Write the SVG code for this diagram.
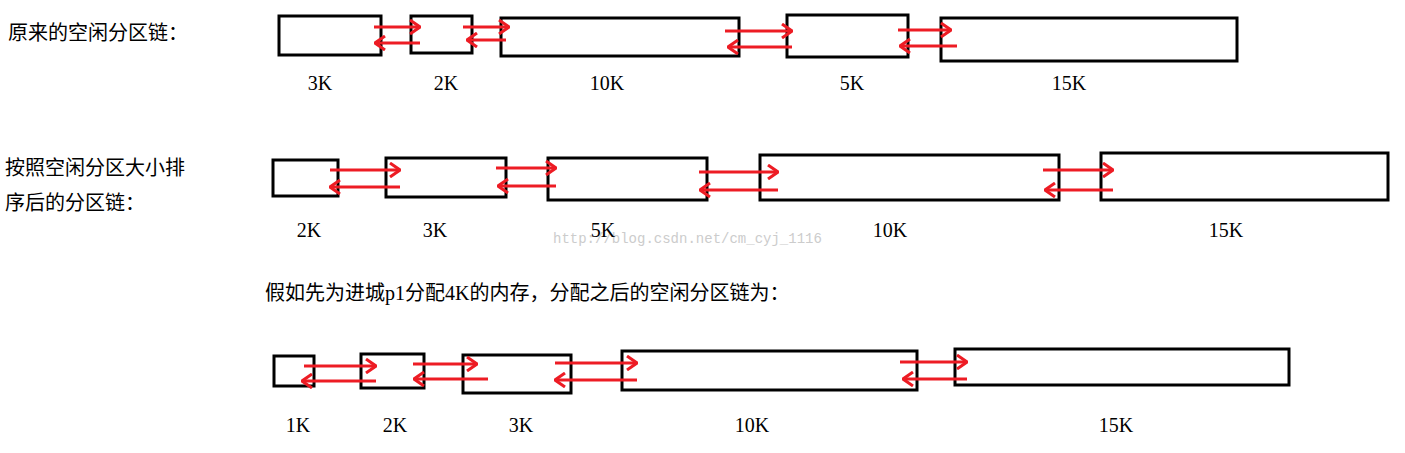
<svg xmlns="http://www.w3.org/2000/svg" width="1405" height="453" viewBox="0 0 1405 453">
<defs>
<style>
.b{fill:#fff;stroke:#000;stroke-width:3}
.a{stroke:#ed1c24;stroke-width:3;fill:none}
.t{font-family:"Liberation Serif","Noto Sans CJK SC",serif;font-size:20px;fill:#000}
.l{font-family:"Liberation Serif",serif;font-size:20px;fill:#000;text-anchor:middle}
.w{font-family:"Liberation Mono",monospace;font-size:14px;fill:#ccc}
</style>
<marker id="h" viewBox="0 0 12 16" refX="11" refY="8" markerWidth="12" markerHeight="16" markerUnits="userSpaceOnUse" orient="auto"><path d="M1,1 L11,8 L1,15" fill="none" stroke="#ed1c24" stroke-width="3"/></marker>
</defs>
<rect width="1405" height="453" fill="#fff"/>
<text class="t" x="8" y="40">原来的空闲分区链：</text>
<text class="t" x="5" y="175">按照空闲分区大小排</text>
<text class="t" x="5" y="210">序后的分区链：</text>
<text class="t" x="265" y="300">假如先为进城p1分配4K的内存，分配之后的空闲分区链为：</text>
<text class="w" x="553" y="243">http://blog.csdn.net/cm_cyj_1116</text>
<g id="r1">
<g id="n1a"><rect class="b" x="279" y="16" width="102" height="39"/><text class="l" x="320" y="90">3K</text></g>
<g id="n1b"><rect class="b" x="411" y="16" width="61" height="37"/><text class="l" x="446" y="90">2K</text></g>
<g id="n1c"><rect class="b" x="501" y="18" width="238" height="38"/><text class="l" x="607" y="90">10K</text></g>
<g id="n1d"><rect class="b" x="787" y="15" width="121" height="42"/><text class="l" x="852" y="90">5K</text></g>
<g id="n1e"><rect class="b" x="941" y="18" width="296" height="43"/><text class="l" x="1069" y="90">15K</text></g>
</g>
<g id="r2">
<g id="n2a"><rect class="b" x="273" y="160" width="65" height="36"/><text class="l" x="309" y="237">2K</text></g>
<g id="n2b"><rect class="b" x="386" y="158" width="120" height="39"/><text class="l" x="435" y="237">3K</text></g>
<g id="n2c"><rect class="b" x="548" y="158" width="159" height="42"/><text class="l" x="603" y="237">5K</text></g>
<g id="n2d"><rect class="b" x="760" y="155" width="299" height="45"/><text class="l" x="890" y="237">10K</text></g>
<g id="n2e"><rect class="b" x="1101" y="153" width="287" height="47"/><text class="l" x="1226" y="237">15K</text></g>
</g>
<g id="r3">
<g id="n3a"><rect class="b" x="274" y="356" width="40" height="30"/><text class="l" x="298" y="432">1K</text></g>
<g id="n3b"><rect class="b" x="361" y="354" width="63" height="34"/><text class="l" x="395" y="432">2K</text></g>
<g id="n3c"><rect class="b" x="463" y="355" width="108" height="38"/><text class="l" x="521" y="432">3K</text></g>
<g id="n3d"><rect class="b" x="622" y="351" width="295" height="39"/><text class="l" x="752" y="432">10K</text></g>
<g id="n3e"><rect class="b" x="955" y="349" width="334" height="36"/><text class="l" x="1116" y="432">15K</text></g>
</g>
<g id="connectors" marker-end="url(#h)">
<line class="a" marker-end="url(#h)" x1="374" y1="27" x2="420" y2="27"/>
<line class="a" marker-end="url(#h)" x1="420" y1="43" x2="375" y2="43"/>
<line class="a" marker-end="url(#h)" x1="463" y1="27" x2="509" y2="27"/>
<line class="a" marker-end="url(#h)" x1="506" y1="40" x2="467" y2="40"/>
<line class="a" marker-end="url(#h)" x1="725" y1="31" x2="792" y2="31"/>
<line class="a" marker-end="url(#h)" x1="792" y1="47" x2="728" y2="47"/>
<line class="a" marker-end="url(#h)" x1="898" y1="30" x2="951" y2="30"/>
<line class="a" marker-end="url(#h)" x1="957" y1="46" x2="900" y2="46"/>
<line class="a" marker-end="url(#h)" x1="330" y1="170" x2="400" y2="170"/>
<line class="a" marker-end="url(#h)" x1="400" y1="187" x2="330" y2="187"/>
<line class="a" marker-end="url(#h)" x1="496" y1="168" x2="556" y2="168"/>
<line class="a" marker-end="url(#h)" x1="556" y1="186" x2="498" y2="186"/>
<line class="a" marker-end="url(#h)" x1="699" y1="172" x2="778" y2="172"/>
<line class="a" marker-end="url(#h)" x1="778" y1="190" x2="700" y2="190"/>
<line class="a" marker-end="url(#h)" x1="1043" y1="170" x2="1113" y2="170"/>
<line class="a" marker-end="url(#h)" x1="1113" y1="190" x2="1045" y2="190"/>
<line class="a" marker-end="url(#h)" x1="304" y1="366" x2="376" y2="366"/>
<line class="a" marker-end="url(#h)" x1="376" y1="381" x2="302" y2="381"/>
<line class="a" marker-end="url(#h)" x1="413" y1="364" x2="477" y2="364"/>
<line class="a" marker-end="url(#h)" x1="488" y1="379" x2="414" y2="379"/>
<line class="a" marker-end="url(#h)" x1="555" y1="363" x2="637" y2="363"/>
<line class="a" marker-end="url(#h)" x1="637" y1="380" x2="555" y2="380"/>
<line class="a" marker-end="url(#h)" x1="900" y1="362" x2="967" y2="362"/>
<line class="a" marker-end="url(#h)" x1="967" y1="379" x2="903" y2="379"/>
</g>
</svg>
